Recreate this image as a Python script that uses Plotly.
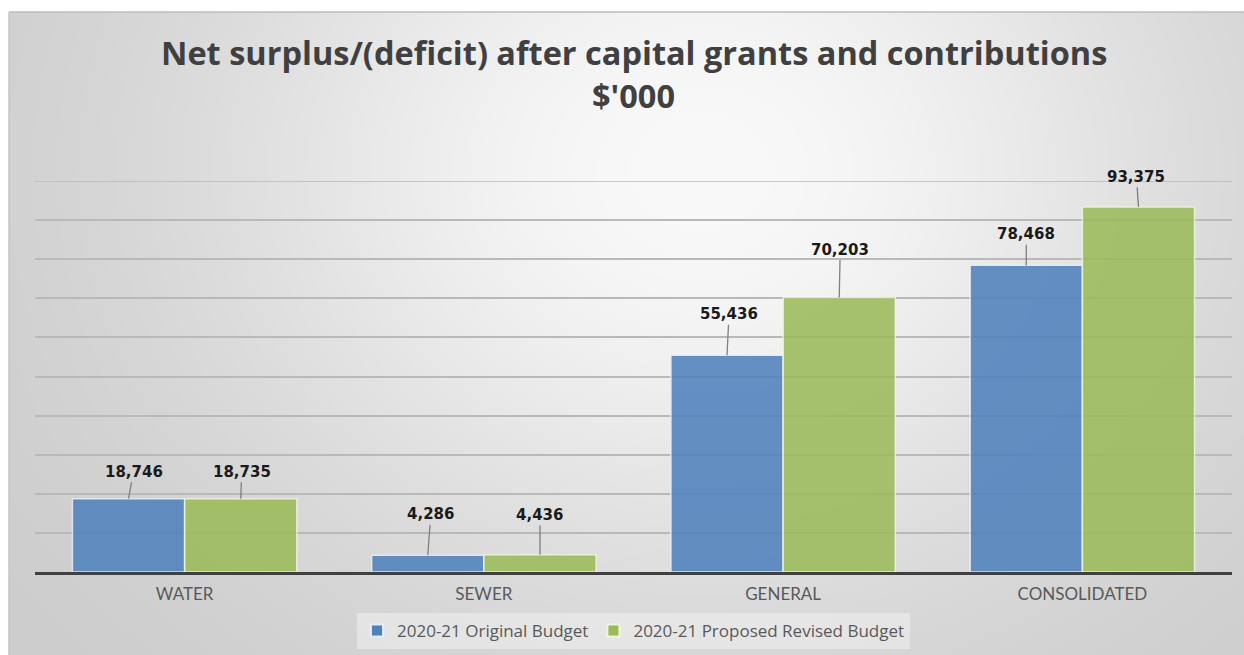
import base64
import struct
import zlib

import numpy as np
import plotly.graph_objects as go

# ---- data ($'000) ----
categories = ["WATER", "SEWER", "GENERAL", "CONSOLIDATED"]
original_budget = [18746, 4286, 55436, 78468]
revised_budget = [18735, 4436, 70203, 93375]
series_names = ["2020-21 Original Budget", "2020-21 Proposed Revised Budget"]
y_max, y_step = 100000, 10000

# label offsets (px) for the leader-lined value labels: (dx, dy)
orig_label_offsets = [(5, -27), (3, -41), (2, -41), (0, -31)]
rev_label_offsets = [(1, -27), (0, -40), (1, -48), (-2, -30)]

W, H = 1244, 655
PLOT_L, PLOT_R, PLOT_T, PLOT_B = 35, 1232, 181, 572
CARD_L, CARD_T = 9, 12
BAR_GAP = 0.25


def png_data_uri(gray):
    """Encode a 2-D uint8 array as a grayscale PNG data URI."""
    h, w = gray.shape
    raw = b"".join(b"\x00" + gray[r].tobytes() for r in range(h))

    def chunk(tag, payload):
        return (struct.pack(">I", len(payload)) + tag + payload
                + struct.pack(">I", zlib.crc32(tag + payload) & 0xFFFFFFFF))

    ihdr = struct.pack(">IIBBBBB", w, h, 8, 0, 0, 0, 0)
    png = (b"\x89PNG\r\n\x1a\n" + chunk(b"IHDR", ihdr)
           + chunk(b"IDAT", zlib.compress(raw, 9)) + chunk(b"IEND", b""))
    return "data:image/png;base64," + base64.b64encode(png).decode()


# soft elliptical grey gradient for the chart card, lightest near the upper middle
gw, gh = (W - CARD_L) // 2, (H - CARD_T) // 2
yy, xx = np.mgrid[0:gh, 0:gw]
px = CARD_L + xx * 2.0
py = CARD_T + yy * 2.0
r2 = ((px - 700.0) / 640.0) ** 2 + ((py - 170.0) / 540.0) ** 2
shade = 249.0 - 46.0 * (1.0 - np.exp(-1.6 * r2))
bg_uri = png_data_uri(np.clip(shade, 0, 255).astype(np.uint8))

plot_w = PLOT_R - PLOT_L
plot_h = PLOT_B - PLOT_T

fig = go.Figure()
fig.add_trace(go.Bar(
    x=categories, y=original_budget, name=series_names[0],
    marker=dict(color="#4F81BD", opacity=0.87,
                line=dict(color="rgba(235,240,250,0.9)", width=1.5)),
    hoverinfo="x+y",
))
fig.add_trace(go.Bar(
    x=categories, y=revised_budget, name=series_names[1],
    marker=dict(color="#9BBB59", opacity=0.87,
                line=dict(color="rgba(240,248,225,0.9)", width=1.5)),
    hoverinfo="x+y",
))

# value labels with short leader lines
half = (1 - BAR_GAP) / 4.0
annotations = []
for values, offsets, shift in ((original_budget, orig_label_offsets, -half),
                               (revised_budget, rev_label_offsets, half)):
    for i, v in enumerate(values):
        dx, dy = offsets[i]
        annotations.append(dict(
            x=i + shift, y=v, xref="x", yref="y",
            text=f"{v:,}", showarrow=True, arrowhead=0, arrowwidth=1.3,
            arrowcolor="#7f7f7f", standoff=0, ax=dx, ay=dy,
            font=dict(family="DejaVu Sans", size=15, color="#1a1a1a", weight="bold"),
        ))

# two-line title
title_lines = ["Net surplus/(deficit) after capital grants and contributions", "$'000"]
for line, ypix in zip(title_lines, (52, 95)):
    annotations.append(dict(
        x=0.5, y=(PLOT_B - ypix) / plot_h, xref="paper", yref="paper",
        xanchor="center", yanchor="middle", showarrow=False, text=line,
        font=dict(family="Open Sans", size=32.5, color="#404040", weight="bold"),
    ))

fig.add_layout_image(dict(
    source=bg_uri, xref="paper", yref="paper",
    x=(CARD_L - PLOT_L) / plot_w, y=(PLOT_B - CARD_T) / plot_h,
    sizex=(W - CARD_L) / plot_w, sizey=(H - CARD_T) / plot_h,
    xanchor="left", yanchor="top", sizing="stretch", layer="below",
))

# thin outline along the top and left of the card
fig.add_shape(type="line", xref="paper", yref="paper",
              x0=(CARD_L - PLOT_L) / plot_w, x1=(W - PLOT_L) / plot_w,
              y0=(PLOT_B - CARD_T) / plot_h, y1=(PLOT_B - CARD_T) / plot_h,
              line=dict(color="#bcbcbc", width=1.5))
fig.add_shape(type="line", xref="paper", yref="paper",
              x0=(CARD_L - PLOT_L) / plot_w, x1=(CARD_L - PLOT_L) / plot_w,
              y0=(PLOT_B - CARD_T) / plot_h, y1=(PLOT_B - H) / plot_h,
              line=dict(color="#c4c4c4", width=1.5))
# gridline at the top of the value range
fig.add_shape(type="line", xref="paper", yref="y", x0=0, x1=1, y0=y_max, y1=y_max,
              line=dict(color="#b9b9b9", width=1.5), layer="below")

fig.update_layout(
    width=W, height=H,
    margin=dict(l=PLOT_L, r=W - PLOT_R, t=PLOT_T, b=H - PLOT_B, pad=0, autoexpand=False),
    paper_bgcolor="white", plot_bgcolor="rgba(0,0,0,0)",
    barmode="group", bargap=BAR_GAP, bargroupgap=0,
    showlegend=True,
    legend=dict(
        orientation="h", x=0.5, xanchor="center",
        y=(PLOT_B - 613) / plot_h, yanchor="top",
        bgcolor="rgba(240,240,240,0.55)", borderwidth=0,
        font=dict(family="Open Sans", size=17, color="#595959"),
        itemsizing="constant",
    ),
    xaxis=dict(
        showgrid=False, showline=True, linecolor="#404040", linewidth=3,
        ticks="", ticklabelstandoff=5, automargin=False,
        tickfont=dict(family="Lato", size=17, color="#595959"),
        fixedrange=True,
    ),
    yaxis=dict(
        range=[0, y_max], dtick=y_step, showticklabels=False,
        showgrid=True, gridcolor="#b9b9b9", gridwidth=1.5, automargin=False,
        zeroline=False, showline=False, fixedrange=True,
    ),
    annotations=annotations,
)

fig.write_html("out.html")
